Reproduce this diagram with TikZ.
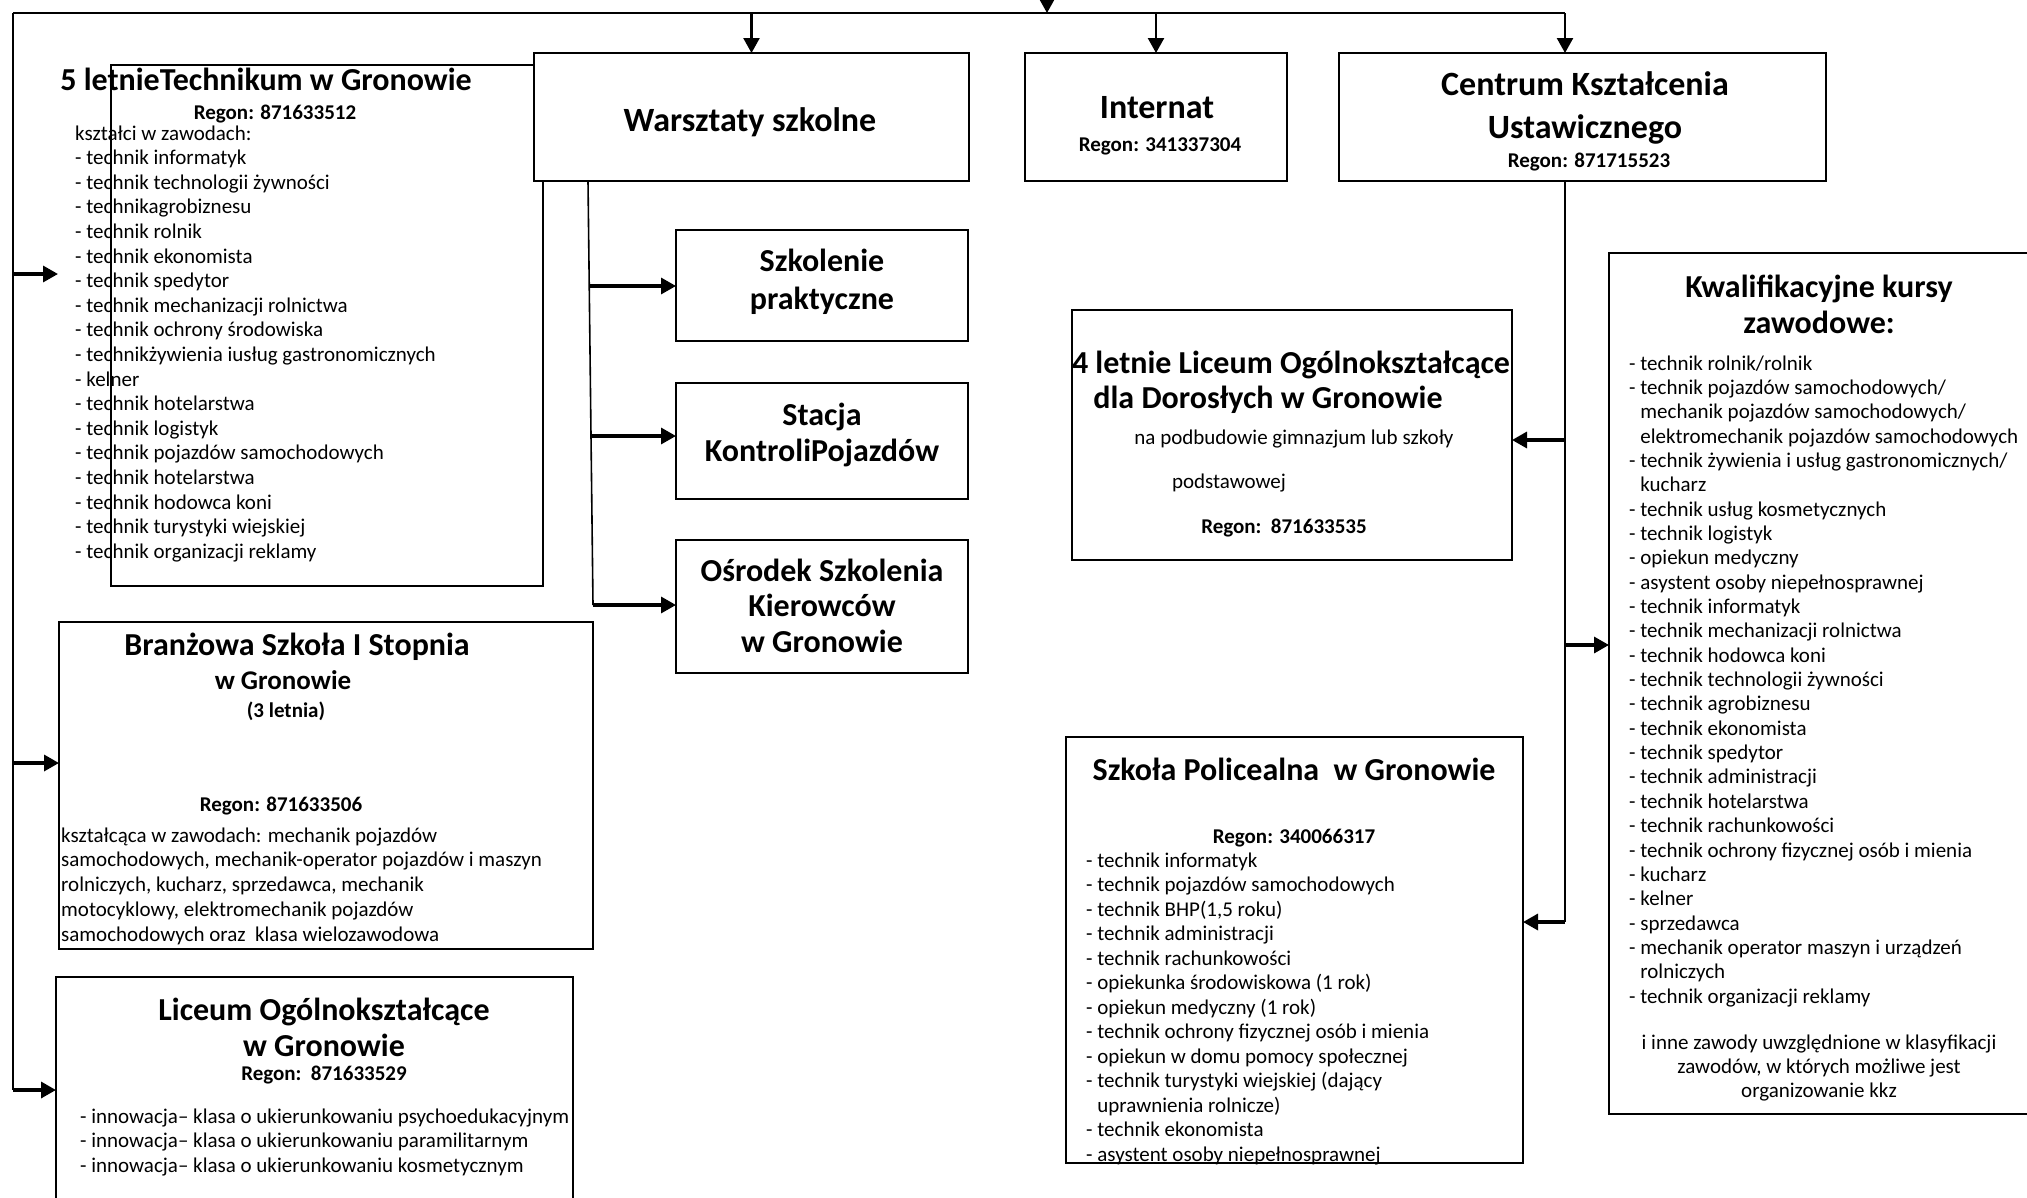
\documentclass[tikz,border=0pt]{standalone}
\usepackage{fontspec}
\setmainfont{Carlito}
\usetikzlibrary{arrows.meta,calc}
\begin{document}
\begin{tikzpicture}[x=1pt,y=-1pt,
  box/.style={draw=black,line width=1.4pt,fill=white,inner sep=0pt,outer sep=0pt,anchor=north west},
  ln/.style={line width=1.6pt},
  darr/.style={line width=2.4pt,-{Triangle[length=15pt,width=16pt]}},
  harr/.style={line width=3.3pt,-{Triangle[length=15pt,width=16pt]}},
  ttl/.style={font=\fontsize{32}{38}\selectfont\bfseries,inner sep=0pt,anchor=base},
  ttlb/.style={font=\fontsize{34}{40}\selectfont\bfseries,inner sep=0pt,anchor=base},
  reg/.style={font=\fontsize{21}{25}\selectfont\bfseries,inner sep=0pt,anchor=base},
  body/.style={font=\fontsize{21}{25}\selectfont,inner sep=0pt,anchor=base west},
  bodyc/.style={font=\fontsize{21}{25}\selectfont,inner sep=0pt,anchor=base},
]
\useasboundingbox (0,0) rectangle (2027,1197);
\clip (0,0) rectangle (2027,1197);

% ---------- boxes ----------
\node[box,minimum width=432pt,minimum height=521pt] (tech) at (111,65) {};
\node[box,minimum width=435pt,minimum height=128pt] (wars) at (534,53) {};
\node[box,minimum width=262pt,minimum height=128pt] (inte) at (1025,53) {};
\node[box,minimum width=487pt,minimum height=128pt] (cent) at (1339,53) {};
\node[box,minimum width=292pt,minimum height=111pt] (szk) at (676,230) {};
\node[box,minimum width=292pt,minimum height=116pt] (sta) at (676,383) {};
\node[box,minimum width=292pt,minimum height=133pt] (osr) at (676,540) {};
\node[box,minimum width=534pt,minimum height=327pt] (bran) at (59,622) {};
\node[box,minimum width=517pt,minimum height=260pt] (lic) at (56,977) {};
\node[box,minimum width=440pt,minimum height=250pt] (lo4) at (1072,310) {};
\node[box,minimum width=457pt,minimum height=426pt] (pol) at (1066,737) {};
\node[box,minimum width=460pt,minimum height=861pt] (kwal) at (1609,253) {};

% ---------- connectors ----------
\coordinate (root) at (1047,-8);
\coordinate (tl) at (13,13);
\coordinate (tr) at (1565,13);
\coordinate (lb) at (13,1090);
\draw[darr] (root) -- (root |- tl);
\draw[ln] (tl) -- (tr);
\draw[ln] (tl) -- (lb);
\draw[darr] (tl -| wars.north) -- (wars.north);
\draw[darr] (tl -| inte.north) -- (inte.north);
\draw[darr] (tr) -- (tr |- cent.north);

\coordinate (techin) at (58,274);
\coordinate (ba) at (13,763);
\draw[harr] (tl |- techin) -- (techin);
\draw[harr] (ba) -- (ba -| bran.west);
\draw[harr] (lb) -- (lb -| lic.west);

\coordinate (wt) at (588,181);
\coordinate (wb) at (593,605);
\coordinate (w1) at (589,286);
\coordinate (w2) at (591,436);
\draw[ln] (wt) -- (wb);
\draw[harr] (w1) -- (w1 -| szk.west);
\draw[harr] (w2) -- (w2 -| sta.west);
\draw[harr] (wb) -- (wb -| osr.west);

\coordinate (cb) at (1565,922);
\coordinate (c1) at (1565,440);
\coordinate (c2) at (1565,645);
\draw[ln] (tr |- cent.south) -- (cb);
\draw[harr] (c1) -- (c1 -| lo4.east);
\draw[harr] (cb) -- (cb -| pol.east);
\draw[harr] (c2) -- (c2 -| kwal.west);

% ---------- texts ----------
% Technikum
\node[ttl] (techT) at (266,90) {5 letnieTechnikum w Gronowie};
\node[reg] (techR) at (275,119) {Regon: 871633512};
\foreach \t [count=\i from 0] in {kształci w zawodach:,
  - technik informatyk,
  - technik technologii żywności,
  - technikagrobiznesu,
  - technik rolnik,
  - technik ekonomista,
  - technik spedytor,
  - technik mechanizacji rolnictwa,
  - technik ochrony środowiska,
  - technikżywienia iusług gastronomicznych,
  - kelner,
  - technik hotelarstwa,
  - technik logistyk,
  - technik pojazdów samochodowych,
  - technik hotelarstwa,
  - technik hodowca koni,
  - technik turystyki wiejskiej,
  - technik organizacji reklamy}
  \node[body] (tech\i) at (75,{140+24.6*\i}) {\t};

% Warsztaty, Internat, Centrum
\node[ttlb] (warsT) at (750,131) {Warsztaty szkolne};
\node[ttlb] (inteT) at (1157,118) {Internat};
\node[reg] (inteR) at (1160,151) {Regon: 341337304};
\node[ttlb] (centT1) at (1585,95) {Centrum Kształcenia};
\node[ttlb] (centT2) at (1585,138) {Ustawicznego};
\node[reg] (centR) at (1589,167) {Regon: 871715523};

% Szkolenie, Stacja, Osrodek
\node[ttl] (szkT1) at (822,271) {Szkolenie};
\node[ttl] (szkT2) at (822,309) {praktyczne};
\node[ttl] (staT1) at (822,425) {Stacja};
\node[ttl] (staT2) at (822,461) {KontroliPojazdów};
\node[ttl] (osrT1) at (822,581) {Ośrodek Szkolenia};
\node[ttl] (osrT2) at (822,616) {Kierowców};
\node[ttl] (osrT3) at (822,652) {w Gronowie};

% Branzowa
\node[ttl] (branT1) at (297,655) {Branżowa Szkoła I Stopnia};
\node[ttl,font=\fontsize{27}{31}\selectfont\bfseries] (branT2) at (283,689) {w Gronowie};
\node[reg] (branT3) at (286,717) {(3 letnia)};
\node[reg] (branR) at (281,811) {Regon: 871633506};
\foreach \t [count=\i from 0] in {kształcąca w zawodach: mechanik pojazdów,
  {samochodowych, mechanik-operator pojazdów i maszyn},
  {rolniczych, kucharz, sprzedawca, mechanik},
  {motocyklowy, elektromechanik pojazdów},
  samochodowych oraz\ \ klasa wielozawodowa}
  \node[body] (bran\i) at (61,{842+24.8*\i}) {\t};

% Liceum
\node[ttl] (licT1) at (324,1020) {Liceum Ogólnokształcące};
\node[ttl] (licT2) at (324,1056) {w Gronowie};
\node[reg] (licR) at (324,1080) {Regon:\ \ 871633529};
\foreach \t [count=\i from 0] in {- innowacja– klasa o ukierunkowaniu psychoedukacyjnym,
  - innowacja– klasa o ukierunkowaniu paramilitarnym,
  - innowacja– klasa o ukierunkowaniu kosmetycznym}
  \node[body] (lic\i) at (80,{1123+24.6*\i}) {\t};

% 4 letnie LO
\node[ttl] (lo4T1) at (1291,373) {4 letnie Liceum Ogólnokształcące};
\node[ttl] (lo4T2) at (1268,408) {dla Dorosłych w Gronowie};
\node[bodyc] (lo4b1) at (1294,444) {na podbudowie gimnazjum lub szkoły};
\node[bodyc] (lo4b2) at (1229,488) {podstawowej};
\node[reg] (lo4R) at (1284,533) {Regon:\ \ 871633535};

% Policealna
\node[ttl] (polT) at (1294,780) {Szkoła Policealna\ \ w Gronowie};
\node[reg] (polR) at (1294,843) {Regon: 340066317};
\foreach \t [count=\i from 0] in {- technik informatyk,
  - technik pojazdów samochodowych,
  {- technik BHP(1,5 roku)},
  - technik administracji,
  - technik rachunkowości,
  - opiekunka środowiskowa (1 rok),
  - opiekun medyczny (1 rok),
  - technik ochrony fizycznej osób i mienia,
  - opiekun w domu pomocy społecznej,
  - technik turystyki wiejskiej (dający,
  \hphantom{- }uprawnienia rolnicze),
  - technik ekonomista,
  - asystent osoby niepełnosprawnej}
  \node[body] (pol\i) at (1086,{867+24.5*\i}) {\t};

% Kwalifikacyjne
\node[ttl] (kwalT1) at (1819,297) {Kwalifikacyjne kursy};
\node[ttl] (kwalT2) at (1819,333) {zawodowe:};
\foreach \t [count=\i from 0] in {- technik rolnik/rolnik,
  - technik pojazdów samochodowych/,
  \hphantom{- }mechanik pojazdów samochodowych/,
  \hphantom{- }elektromechanik pojazdów samochodowych,
  - technik żywienia i usług gastronomicznych/,
  \hphantom{- }kucharz,
  - technik usług kosmetycznych,
  - technik logistyk,
  - opiekun medyczny,
  - asystent osoby niepełnosprawnej,
  - technik informatyk,
  - technik mechanizacji rolnictwa,
  - technik hodowca koni,
  - technik technologii żywności,
  - technik agrobiznesu,
  - technik ekonomista,
  - technik spedytor,
  - technik administracji,
  - technik hotelarstwa,
  - technik rachunkowości,
  - technik ochrony fizycznej osób i mienia,
  - kucharz,
  - kelner,
  - sprzedawca,
  - mechanik operator maszyn i urządzeń,
  \hphantom{- }rolniczych,
  - technik organizacji reklamy}
  \node[body] (kwal\i) at (1629,{370+24.35*\i}) {\t};
\node[bodyc] (kwalE1) at (1819,1049) {i inne zawody uwzględnione w klasyfikacji};
\node[bodyc] (kwalE2) at (1819,1073) {zawodów, w których możliwe jest};
\node[bodyc] (kwalE3) at (1819,1097) {organizowanie kkz};
\end{tikzpicture}
\end{document}
